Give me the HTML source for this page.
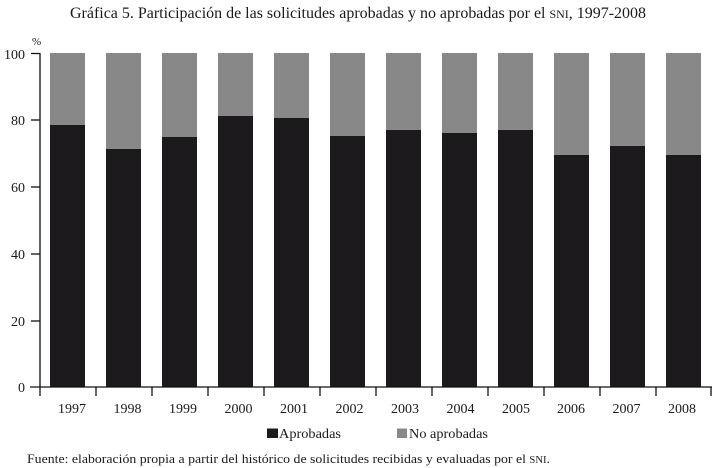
<!DOCTYPE html>
<html>
<head>
<meta charset="utf-8">
<style>
  html, body { margin: 0; padding: 0; background: #ffffff; }
  svg { display: block; }
  text { font-family: "Liberation Serif", "DejaVu Serif", serif; fill: #1a1a1a; }
</style>
</head>
<body>
<svg width="715" height="468" viewBox="0 0 715 468" xmlns="http://www.w3.org/2000/svg">
  <!-- Title -->
  <text x="70" y="18" font-size="16" textLength="576" lengthAdjust="spacingAndGlyphs">Gráfica 5. Participación de las solicitudes aprobadas y no aprobadas por el <tspan font-size="12">SNI</tspan>, 1997-2008</text>

  <!-- % label -->
  <text x="32" y="45" font-size="11">%</text>

  <!-- Bars: gray (no aprobadas) full, black (aprobadas) over -->
  <g fill="#888888">
    <rect x="50" y="53" width="35" height="334"/>
    <rect x="106" y="53" width="35" height="334"/>
    <rect x="162" y="53" width="35" height="334"/>
    <rect x="218" y="53" width="35" height="334"/>
    <rect x="274" y="53" width="35" height="334"/>
    <rect x="330" y="53" width="35" height="334"/>
    <rect x="386" y="53" width="35" height="334"/>
    <rect x="442" y="53" width="35" height="334"/>
    <rect x="498" y="53" width="35" height="334"/>
    <rect x="554" y="53" width="35" height="334"/>
    <rect x="610" y="53" width="35" height="334"/>
    <rect x="666" y="53" width="35" height="334"/>
  </g>
  <g fill="#1c1a1c">
    <rect x="50" y="125" width="35" height="262"/>
    <rect x="106" y="149" width="35" height="238"/>
    <rect x="162" y="137" width="35" height="250"/>
    <rect x="218" y="116" width="35" height="271"/>
    <rect x="274" y="118" width="35" height="269"/>
    <rect x="330" y="136" width="35" height="251"/>
    <rect x="386" y="130" width="35" height="257"/>
    <rect x="442" y="133" width="35" height="254"/>
    <rect x="498" y="130" width="35" height="257"/>
    <rect x="554" y="155" width="35" height="232"/>
    <rect x="610" y="146" width="35" height="241"/>
    <rect x="666" y="155" width="35" height="232"/>
  </g>

  <!-- Axes -->
  <g stroke="#111" stroke-width="1.3" fill="none">
    <line x1="40" y1="53" x2="40" y2="387"/>
    <line x1="30" y1="387" x2="712" y2="387"/>
    <!-- y ticks -->
    <line x1="31" y1="53.5" x2="40" y2="53.5"/>
    <line x1="31" y1="120" x2="40" y2="120"/>
    <line x1="31" y1="187" x2="40" y2="187"/>
    <line x1="31" y1="254" x2="40" y2="254"/>
    <line x1="31" y1="321" x2="40" y2="321"/>
    <!-- x ticks -->
    <line x1="40" y1="387" x2="40" y2="396"/>
    <line x1="96" y1="387" x2="96" y2="396"/>
    <line x1="152" y1="387" x2="152" y2="396"/>
    <line x1="208" y1="387" x2="208" y2="396"/>
    <line x1="264" y1="387" x2="264" y2="396"/>
    <line x1="320" y1="387" x2="320" y2="396"/>
    <line x1="376" y1="387" x2="376" y2="396"/>
    <line x1="432" y1="387" x2="432" y2="396"/>
    <line x1="488" y1="387" x2="488" y2="396"/>
    <line x1="544" y1="387" x2="544" y2="396"/>
    <line x1="600" y1="387" x2="600" y2="396"/>
    <line x1="656" y1="387" x2="656" y2="396"/>
    <line x1="711" y1="387" x2="711" y2="396"/>
  </g>

  <!-- Y labels -->
  <g font-size="14" text-anchor="end">
    <text x="25" y="59">100</text>
    <text x="25" y="125">80</text>
    <text x="25" y="192">60</text>
    <text x="25" y="259">40</text>
    <text x="25" y="326">20</text>
    <text x="25" y="392">0</text>
  </g>

  <!-- X labels -->
  <g font-size="14" text-anchor="middle">
    <text x="72" y="413">1997</text>
    <text x="127.5" y="413">1998</text>
    <text x="183" y="413">1999</text>
    <text x="238.5" y="413">2000</text>
    <text x="294" y="413">2001</text>
    <text x="349.5" y="413">2002</text>
    <text x="405" y="413">2003</text>
    <text x="460.5" y="413">2004</text>
    <text x="516" y="413">2005</text>
    <text x="571" y="413">2006</text>
    <text x="626.5" y="413">2007</text>
    <text x="682" y="413">2008</text>
  </g>

  <!-- Legend -->
  <rect x="267" y="428.5" width="11" height="9.5" fill="#1c1a1c"/>
  <text x="279" y="438" font-size="14" textLength="62" lengthAdjust="spacingAndGlyphs">Aprobadas</text>
  <rect x="397" y="428.5" width="10" height="9.5" fill="#888888"/>
  <text x="409" y="438" font-size="14" textLength="79" lengthAdjust="spacingAndGlyphs">No aprobadas</text>

  <!-- Source -->
  <text x="27" y="463" font-size="13" textLength="523" lengthAdjust="spacingAndGlyphs">Fuente: elaboración propia a partir del histórico de solicitudes recibidas y evaluadas por el <tspan font-size="10">SNI</tspan>.</text>
</svg>
</body>
</html>
